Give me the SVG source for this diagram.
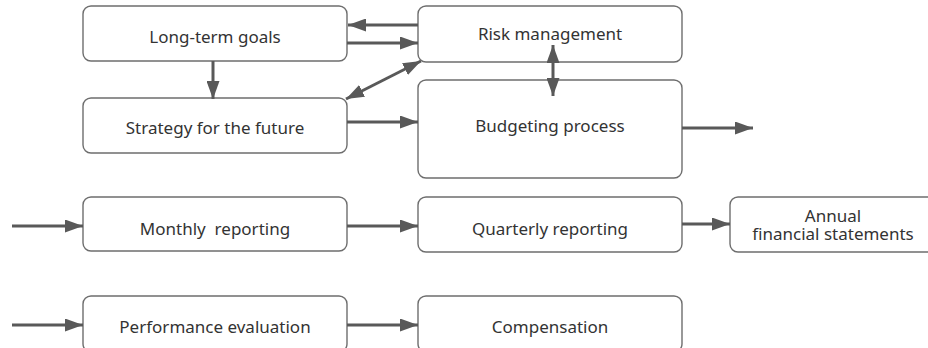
<svg xmlns="http://www.w3.org/2000/svg" width="928" height="348" viewBox="0 0 928 348">
<style>
.box{fill:#ffffff;stroke:#6e6e6e;stroke-width:1.4}
.lbl{font-family:"Noto Sans","DejaVu Sans",sans-serif;font-size:17px;fill:#333333;text-anchor:middle}
.con{stroke:#595959;stroke-width:3;fill:none;marker-end:url(#ah)}
.dbl{marker-start:url(#ah)}
</style>
<defs>
<marker id="ah" markerUnits="userSpaceOnUse" markerWidth="18" markerHeight="13" refX="18" refY="6.5" orient="auto-start-reverse">
<path d="M0,0 L18,6.5 L0,13 z" fill="#595959"/>
</marker>
</defs>
<rect width="928" height="348" fill="#ffffff"/>
<g id="n-longterm"><rect class="box" x="83" y="6" width="264" height="55" rx="8"/><text class="lbl" x="215" y="43">Long-term goals</text></g>
<g id="n-risk"><rect class="box" x="418" y="6" width="264" height="56" rx="8"/><text class="lbl" x="550" y="40">Risk management</text></g>
<g id="n-strategy"><rect class="box" x="83" y="98" width="264" height="55" rx="8"/><text class="lbl" x="215" y="134">Strategy for the future</text></g>
<g id="n-budget"><rect class="box" x="418" y="80" width="264" height="98" rx="8"/><text class="lbl" x="550" y="131.5">Budgeting process</text></g>
<g id="n-monthly"><rect class="box" x="83" y="197" width="264" height="54" rx="8"/><text class="lbl" x="215" y="235" xml:space="preserve" style="white-space:pre">Monthly  reporting</text></g>
<g id="n-quarterly"><rect class="box" x="418" y="197" width="264" height="55" rx="8"/><text class="lbl" x="550" y="235">Quarterly reporting</text></g>
<g id="n-annual"><rect class="box" x="730" y="197" width="206" height="55" rx="8"/><text class="lbl" x="833" y="221.5"><tspan x="833">Annual</tspan><tspan x="833" dy="18.5">financial statements</tspan></text></g>
<g id="n-performance"><rect class="box" x="83" y="296" width="264" height="56" rx="8"/><text class="lbl" x="215" y="333">Performance evaluation</text></g>
<g id="n-compensation"><rect class="box" x="418" y="296" width="264" height="56" rx="8"/><text class="lbl" x="550" y="333">Compensation</text></g>
<g id="connectors">
<path class="con" d="M418,25 L348,25"/>
<path class="con" d="M347,43 L418,43"/>
<path class="con" d="M213,61 L213,99"/>
<path class="con dbl" d="M346,99 L421,61"/>
<path class="con" d="M347,122 L418,122"/>
<path class="con dbl" d="M553,45 L553,96"/>
<path class="con" d="M682,128 L753,128"/>
<path class="con" d="M12,226 L83,226"/>
<path class="con" d="M347,226 L418,226"/>
<path class="con" d="M682,224 L730,224"/>
<path class="con" d="M12,325 L83,325"/>
<path class="con" d="M347,325 L418,325"/>
</g>
</svg>
